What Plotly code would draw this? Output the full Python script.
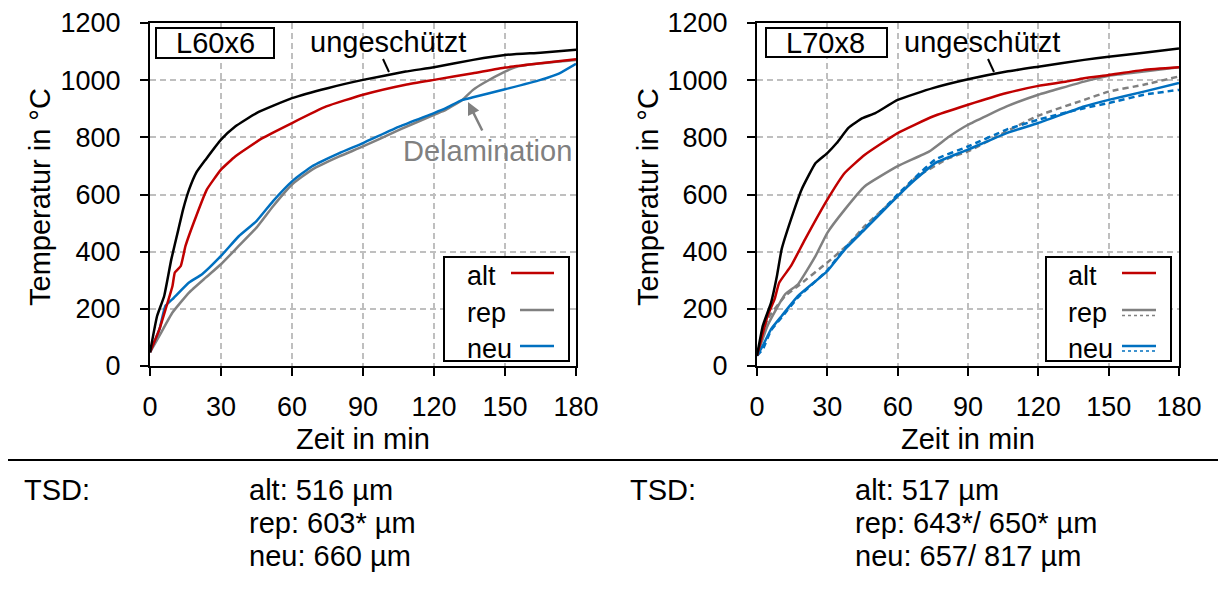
import plotly.graph_objects as go

W, H = 1218, 590
FONT = "Liberation Sans, Arial, sans-serif"
FS = 27      # tick labels / legend
FT = 29      # titles, annotations, TSD block

# ---------------- data ----------------
x_ticks = [0, 30, 60, 90, 120, 150, 180]
y_ticks = [0, 200, 400, 600, 800, 1000, 1200]

# L60x6 (left panel)
t_L_ung = [0, 3, 6, 9, 12, 14, 16.5, 19.5, 23.5, 30, 36, 45, 60, 75, 90, 108, 120, 136.5, 150, 165, 180]
T_L_ung = [48, 175, 245, 373, 478, 548, 617, 676, 722, 792, 838, 885, 937, 972, 1001, 1030, 1045, 1071, 1088, 1096, 1106]

t_L_alt = [0, 4, 7, 9.5, 10.5, 13, 15, 19.5, 24, 30, 36, 47.5, 60, 74.5, 90, 108, 120, 136.5, 150, 165, 180]
T_L_alt = [48, 129, 210, 280, 327, 350, 420, 524, 617, 687, 733, 797, 850, 908, 949, 984, 1001, 1024, 1044, 1059, 1073]

t_L_rep = [0, 4, 9.5, 16.5, 23.5, 30, 37.5, 45, 52, 60, 68.5, 80, 90, 105.5, 120, 125, 132, 136.5, 141, 150, 155, 165, 180]
T_L_rep = [48, 106, 187, 257, 309, 356, 420, 484, 559, 635, 687, 733, 768, 827, 879, 896, 931, 966, 990, 1030, 1047, 1059, 1071]

t_L_neu = [0, 4, 6.5, 9.5, 16.5, 22, 30, 37.5, 45, 52, 60, 68.5, 80, 90, 105.5, 120, 125, 132, 136.5, 150, 165, 173, 180]
T_L_neu = [48, 129, 210, 234, 292, 321, 385, 454, 507, 577, 646, 699, 745, 780, 838, 885, 902, 931, 940, 968, 1001, 1024, 1057]

# L70x8 (right panel)
t_R_ung = [0, 2.5, 6, 8.5, 10.5, 14.5, 19, 25, 30, 34, 39, 45, 50.5, 60, 75, 90, 106.5, 120, 139.5, 150, 165, 180]
T_R_ung = [36, 141, 222, 315, 408, 513, 617, 710, 745, 780, 833, 867, 885, 931, 972, 1003, 1030, 1047, 1071, 1082, 1096, 1111]

t_R_alt = [0, 4.5, 7.5, 9.5, 14.5, 20.5, 30, 37.5, 46, 60, 75, 90, 106.5, 120, 132, 139.5, 150, 165, 180]
T_R_alt = [36, 175, 234, 292, 350, 443, 582, 676, 739, 815, 873, 914, 955, 980, 995, 1007, 1018, 1036, 1045]

t_R_rep1 = [0, 4.5, 12, 17.5, 25, 30, 37.5, 46, 60, 73.5, 82, 90, 106.5, 120, 139.5, 150, 165, 180]
T_R_rep1 = [36, 141, 251, 286, 385, 466, 548, 629, 699, 751, 803, 844, 908, 949, 995, 1015, 1030, 1045]

t_R_rep2 = [0, 4.5, 12, 17.5, 30, 39, 46, 60, 67.5, 82, 90, 106.5, 120, 139.5, 150, 165, 180]
T_R_rep2 = [36, 164, 245, 280, 362, 426, 490, 594, 658, 728, 751, 821, 876, 931, 960, 984, 1013]

t_R_neu1 = [0, 2.5, 6, 10.5, 17.5, 30, 37.5, 46, 60, 67.5, 76, 90, 106.5, 120, 139.5, 150, 165, 180]
T_R_neu1 = [36, 71, 129, 175, 245, 332, 408, 478, 594, 652, 710, 757, 815, 850, 908, 931, 960, 990]

t_R_neu2 = [0, 2.5, 6, 10.5, 17.5, 30, 37.5, 46, 60, 67.5, 76, 90, 106.5, 120, 139.5, 150, 165, 180]
T_R_neu2 = [36, 59, 125, 170, 240, 335, 412, 482, 600, 660, 722, 768, 827, 862, 902, 920, 949, 966]

legend_labels = ["alt", "rep", "neu"]
panel_titles = ["L60x6", "L70x8"]
tsd_left = ["alt: 516 µm", "rep: 603* µm", "neu: 660 µm"]
tsd_right = ["alt: 517 µm", "rep: 643*/ 650* µm", "neu: 657/ 817 µm"]

# ---------------- styles ----------------
BLACK = "#000000"
RED = "#c00000"
GRAY = "#808080"
BLUE = "#0070c0"
LW = 2.5


def px(x):
    return x / W


def py(y):
    return 1 - y / H


fig = go.Figure()


def add(t, T, color, xa, ya, dash="solid"):
    fig.add_trace(go.Scatter(x=t, y=T, mode="lines", xaxis=xa, yaxis=ya,
                             line=dict(color=color, width=LW, dash=dash, shape="spline", smoothing=0.4),
                             showlegend=False, hoverinfo="skip"))


add(t_L_rep, T_L_rep, GRAY, "x", "y")
add(t_L_neu, T_L_neu, BLUE, "x", "y")
add(t_L_alt, T_L_alt, RED, "x", "y")
add(t_L_ung, T_L_ung, BLACK, "x", "y")

add(t_R_rep2, T_R_rep2, GRAY, "x2", "y2", dash="6px,4px")
add(t_R_neu2, T_R_neu2, BLUE, "x2", "y2", dash="6px,4px")
add(t_R_rep1, T_R_rep1, GRAY, "x2", "y2")
add(t_R_neu1, T_R_neu1, BLUE, "x2", "y2")
add(t_R_alt, T_R_alt, RED, "x2", "y2")
add(t_R_ung, T_R_ung, BLACK, "x2", "y2")

# plot area pixel boxes
L_X0, L_X1 = 150, 576
R_X0, R_X1 = 757, 1179
Y_TOP, Y_BOT = 23, 366

axis_common = dict(
    showline=True, linecolor="black", linewidth=2, mirror=True,
    ticks="outside", ticklen=8, tickwidth=2, tickcolor="black",
    showgrid=True, gridcolor="#bfbfbf", griddash="6px,4px", gridwidth=1.5,
    zeroline=False, tickfont=dict(size=FS, color="black", family=FONT),
    fixedrange=True, automargin=False,
)
xa = dict(axis_common, range=[0, 180], tickvals=x_ticks, ticktext=[str(v) for v in x_ticks],
          ticklabelstandoff=8)
ya = dict(axis_common, range=[0, 1200], tickvals=y_ticks, ticktext=[str(v) for v in y_ticks],
          ticklabelstandoff=14)

fig.update_layout(
    template="none",
    width=W, height=H, margin=dict(l=0, r=0, t=0, b=0, pad=0), autosize=False,
    paper_bgcolor="white", plot_bgcolor="white",
    font=dict(family=FONT, size=FS, color="black"),
    showlegend=False,
    xaxis=dict(xa, domain=[px(L_X0), px(L_X1)], anchor="y"),
    yaxis=dict(ya, domain=[py(Y_BOT), py(Y_TOP)], anchor="x"),
    xaxis2=dict(xa, domain=[px(R_X0), px(R_X1)], anchor="y2"),
    yaxis2=dict(ya, domain=[py(Y_BOT), py(Y_TOP)], anchor="x2"),
)

shapes = []
annotations = []


def text(x, y, s, size=FT, color="black", xanchor="center", yanchor="middle", angle=0):
    annotations.append(dict(x=px(x), y=py(y), xref="paper", yref="paper", text=s, showarrow=False,
                            font=dict(size=size, color=color, family=FONT),
                            xanchor=xanchor, yanchor=yanchor, textangle=angle))


def line(x0, y0, x1, y1, color="black", width=2, dash="solid"):
    shapes.append(dict(type="line", xref="paper", yref="paper", x0=px(x0), y0=py(y0), x1=px(x1), y1=py(y1),
                       line=dict(color=color, width=width, dash=dash)))


def rect(x0, y0, x1, y1):
    shapes.append(dict(type="rect", xref="paper", yref="paper", x0=px(x0), y0=py(y0), x1=px(x1), y1=py(y1),
                       line=dict(color="black", width=2), fillcolor="white", layer="above"))


# axis titles
text(40, 197, "Temperatur in °C", angle=-90)
text(648, 197, "Temperatur in °C", angle=-90)
text(363, 439, "Zeit in min")
text(968, 439, "Zeit in min")

# panel labels
rect(156, 28, 274, 58)
text(215, 43, panel_titles[0])
rect(766, 28, 887, 57)
text(826, 43, panel_titles[1])

# ungeschützt labels + leader lines
text(388, 42, "ungeschützt")
line(383, 59, 389, 72)
text(982, 42, "ungeschützt")
line(988, 59, 994, 72)

# Delamination
text(487, 151, "Delamination", color=GRAY)
annotations.append(dict(x=px(468), y=py(102), xref="paper", yref="paper", ax=15, ay=30,
                        axref="pixel", ayref="pixel", text="", showarrow=True,
                        arrowhead=2, arrowsize=1, arrowwidth=2.5, arrowcolor=GRAY, standoff=0))

# legend left
rect(444, 257, 569, 361)
leg_y = [273, 310, 346]
leg_x0 = [511, 520, 520]
for lab, yy, x0, col in zip(legend_labels, leg_y, leg_x0, [RED, GRAY, BLUE]):
    text(465, yy + 3, lab, size=FS, xanchor="left")
    line(x0, yy, 554, yy, color=col, width=2.5)

# legend right
rect(1046, 257, 1171, 361)
text(1066, 276, legend_labels[0], size=FS, xanchor="left")
line(1122, 273, 1156, 273, color=RED, width=2.5)
text(1066, 313, legend_labels[1], size=FS, xanchor="left")
line(1122, 310, 1156, 310, color=GRAY, width=2.5)
line(1122, 315.5, 1156, 315.5, color=GRAY, width=1.5, dash="dot")
text(1066, 349, legend_labels[2], size=FS, xanchor="left")
line(1122, 346, 1156, 346, color=BLUE, width=2.5)
line(1122, 351, 1156, 351, color=BLUE, width=1.5, dash="dot")

# separator line
line(8, 460, 1218, 460, width=2)

# TSD text block
text(22, 490, "TSD:", xanchor="left")
for i, s in enumerate(tsd_left):
    text(247, 490 + 33 * i, s, xanchor="left")
text(628, 490, "TSD:", xanchor="left")
for i, s in enumerate(tsd_right):
    text(853, 490 + 33 * i, s, xanchor="left")

fig.update_layout(shapes=shapes, annotations=annotations)
fig.write_html("out.html")
